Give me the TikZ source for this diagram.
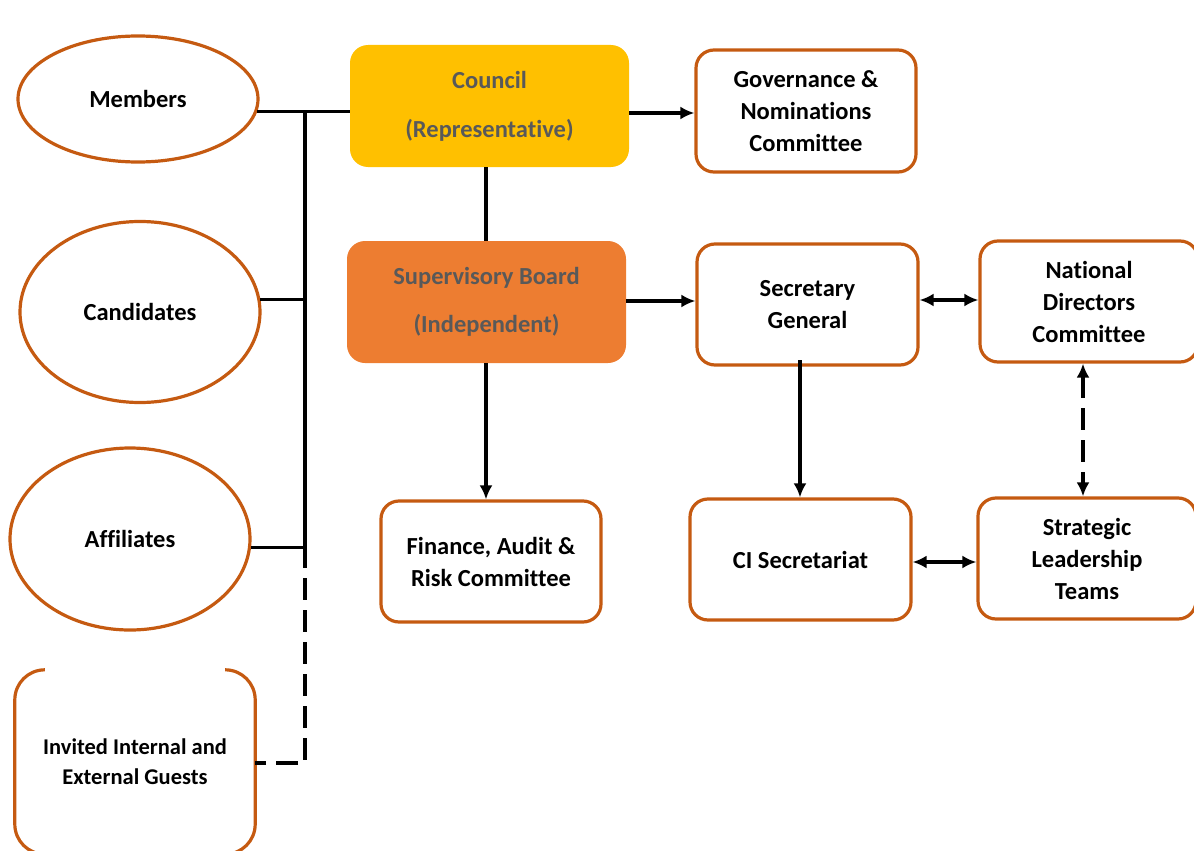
\documentclass[tikz,border=0pt]{standalone}
\usepackage{fontspec}
\setmainfont[Ligatures=NoCommon]{Carlito}
\usetikzlibrary{shapes.geometric,arrows.meta}
\definecolor{bord}{HTML}{C55A11}
\definecolor{gold}{HTML}{FFC000}
\definecolor{orng}{HTML}{ED7D31}
\definecolor{gtxt}{HTML}{595959}
\tikzset{
  ell/.style={ellipse,draw=bord,line width=3.2pt,minimum width=240pt,inner sep=0pt,font=\bfseries\fontsize{24.5}{32}\selectfont},
  wbox/.style={rectangle,rounded corners=18pt,draw=bord,line width=3.2pt,fill=white,inner sep=0pt,align=center,font=\bfseries\fontsize{24.5}{32}\selectfont},
  fbox/.style={rectangle,rounded corners=18pt,inner sep=0pt,align=center,text=gtxt,font=\bfseries\fontsize{24.5}{49}\selectfont,minimum width=279pt,minimum height=122pt},
  conn/.style={line width=3.2pt,black},
  arr/.style={conn,-{Latex[length=14pt,width=13pt]}},
  darr/.style={conn,{Latex[length=14pt,width=13pt]}-{Latex[length=14pt,width=13pt]}},
  dsh/.style={dash pattern=on 22pt off 10pt}
}
\begin{document}
\begin{tikzpicture}[x=1pt,y=-1pt]
\useasboundingbox (0,0) rectangle (1194,851);
\clip (0,0) rectangle (1194,851);
% ellipses
\node[ell,minimum height=126pt] (mem) at (138,99) {Members};
\node[ell,minimum height=181pt] (cand) at (140,312) {Candidates};
\node[ell,minimum height=182pt] (aff) at (130,539) {Affiliates};
% guests
\node[inner sep=0pt,minimum width=240pt,minimum height=184pt,align=center,font=\bfseries\fontsize{22.5}{30}\selectfont] (guest) at (135,762) {Invited Internal and\\External Guests};
\draw[bord,line width=3.2pt,rounded corners=30pt] ([xshift=29pt]guest.north west) -- (guest.north west) -- (guest.south west) -- (guest.south east) -- (guest.north east) -- ([xshift=-29pt]guest.north east);
% filled boxes
\node[fbox,fill=gold] (council) at (489.5,106) {\raisebox{-3pt}{Council}\\\raisebox{-3pt}{(Representative)}};
\node[fbox,fill=orng] (sup) at (486.5,302) {\raisebox{-2pt}{Supervisory Board}\\\raisebox{-1pt}{(Independent)}};
% white boxes
\node[wbox,minimum width=220pt,minimum height=122pt] (gov) at (806,111) {Governance \&\\Nominations\\Committee};
\node[wbox,minimum width=220pt,minimum height=121pt] (fin) at (491,561.5) {Finance, Audit \&\\Risk Committee};
\node[wbox,minimum width=221pt,minimum height=121pt] (sg) at (807.5,304.5) {Secretary\\General};
\node[wbox,minimum width=218pt,minimum height=121pt] (ndc) at (1089,301.5) {National\\Directors\\Committee};
\node[wbox,minimum width=221pt,minimum height=121pt] (ci) at (800.5,559.5) {CI Secretariat};
\node[wbox,minimum width=218pt,minimum height=121pt] (slt) at (1087,558.5) {Strategic\\Leadership\\Teams};
% bus
\coordinate (btop) at (305,111);
\coordinate (baff) at (305,546);
\coordinate (bg) at (305,763);
\draw[conn] (mem.-6) -- (council.west |- mem.-6);
\draw[conn] (cand.6) -- (btop |- cand.6);
\draw[conn] (aff.-4) -- (btop |- aff.-4);
\draw[conn] (btop) -- (baff);
\draw[conn,dsh] (baff) -- (bg) -- (guest.east |- bg);
% connectors
\draw[arr] (council.east |- 0,113) -- (gov.west |- 0,113);
\draw[conn] (council.south -| 486,0) -- (sup.north -| 486,0);
\draw[arr] (sup.east |- 0,301) -- (sg.west |- 0,301);
\draw[arr] (sup.south -| 486,0) -- (fin.north -| 486,0);
\draw[darr] (sg.east |- 0,300) -- (ndc.west |- 0,300);
\draw[arr] (800,360) -- (ci.north -| 800,0);
\draw[darr] (ci.east |- 0,562) -- (slt.west |- 0,562);
\draw[darr,dsh] (ndc.south -| 1083,0) -- (slt.north -| 1083,0);
\end{tikzpicture}
\end{document}
